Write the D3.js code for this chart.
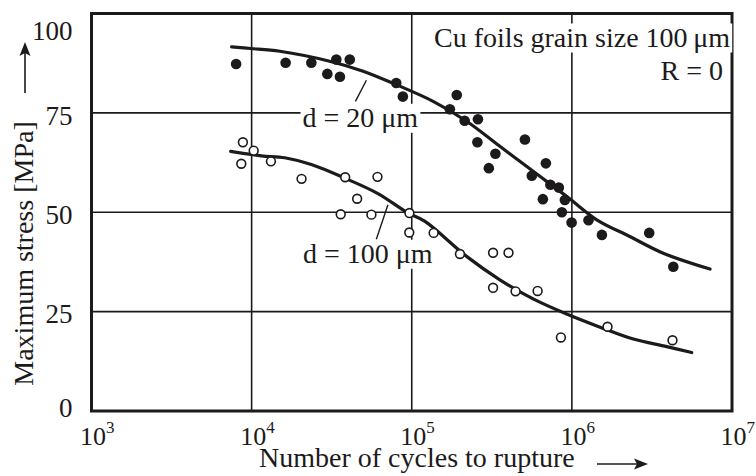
<!DOCTYPE html>
<html>
<head>
<meta charset="utf-8">
<script src="https://cdn.jsdelivr.net/npm/d3@7"></script>
<style>
  html, body { margin: 0; padding: 0; background: #fff; }
  svg { display: block; }
  text { font-family: "Liberation Serif", "Times New Roman", serif; fill: #1c1a1a; }
</style>
</head>
<body>
<svg id="chart" width="756" height="476"></svg>
<script>
// Fatigue data for Cu foils (grain size 100 µm, R = 0)
// d = 20 µm foils (filled markers)
const fineCycles = [8.0e3, 1.63e4, 2.36e4, 2.97e4, 3.38e4, 3.56e4, 4.10e4, 8.0e4, 8.8e4,
  1.91e5, 1.73e5, 2.14e5, 2.59e5, 2.57e5, 3.33e5, 3.03e5, 5.09e5, 6.88e5, 5.62e5,
  7.34e5, 8.29e5, 6.59e5, 9.04e5, 8.66e5, 9.96e5, 1.27e6, 1.54e6, 3.04e6, 4.30e6];
const fineStress = [87.3, 87.6, 87.6, 84.8, 88.4, 84.1, 88.4, 82.5, 79.1,
  79.5, 75.9, 73.0, 73.4, 67.6, 64.7, 61.1, 68.3, 62.3, 59.2,
  56.9, 56.2, 53.3, 53.1, 50.0, 47.4, 48.0, 44.3, 44.8, 36.3];

// d = 100 µm foils (open markers)
const coarseCycles = [8.82e3, 1.03e4, 8.62e3, 1.32e4, 2.05e4, 3.84e4, 6.11e4, 4.56e4, 3.60e4,
  5.60e4, 9.67e4, 9.65e4, 1.37e5, 2.0e5, 3.22e5, 4.02e5, 3.22e5, 4.45e5, 6.11e5,
  8.54e5, 1.67e6, 4.25e6];
const coarseStress = [67.6, 65.5, 62.2, 62.8, 58.4, 58.8, 58.9, 53.4, 49.5,
  49.4, 49.8, 44.9, 44.8, 39.5, 39.8, 39.8, 31.0, 30.1, 30.2,
  18.5, 21.2, 17.8];

// Fitted S-N curves
const fineCurveCycles = [7.5e3, 9.9e3, 1.5e4, 3.07e4, 4.97e4, 8.0e4, 1.36e5, 2.2e5, 3.55e5,
  5.73e5, 9.27e5, 1.43e6, 2.3e6, 3.72e6, 7.29e6];
const fineCurveStress = [91.6, 91.2, 90.5, 88.0, 85.5, 82.1, 77.9, 72.9, 66.6,
  60.3, 54.0, 48.1, 43.9, 39.7, 35.7];
const coarseCurveCycles = [7.4e3, 1.15e4, 1.61e4, 2.36e4, 3.81e4, 6.15e4, 9.48e4, 1.21e5,
  2.2e5, 3.55e5, 5.73e5, 9.27e5, 1.5e6, 2.42e6, 3.91e6, 5.6e6];
const coarseCurveStress = [65.3, 64.2, 63.7, 62.0, 58.6, 54.7, 49.8, 47.7,
  38.9, 33.0, 28.2, 24.4, 21.1, 18.1, 16.2, 14.7];

// Axis ticks
const xTickValues = [1e3, 1e4, 1e5, 1e6, 1e7];
const xTickExponents = ["3", "4", "5", "6", "7"];
const yTickValues = [0, 25, 50, 75, 100];
const yTickLabels = ["0", "25", "50", "75", "100"];

const ink = "#1c1a1a";
const svg = d3.select("#chart");

const plot = { left: 91.5, right: 732, top: 13.5, bottom: 411 };
const x = d3.scaleLog().domain([1e3, 1e7]).range([plot.left, plot.right]);
const y = d3.scaleLinear().domain([0, 100]).range([plot.bottom, plot.top]);

// Grid lines
const grid = svg.append("g").attr("stroke", ink).attr("stroke-width", 1.6);
grid.selectAll("line.v").data(xTickValues.slice(1, -1)).join("line")
  .attr("x1", d => x(d)).attr("x2", d => x(d))
  .attr("y1", plot.top).attr("y2", plot.bottom);
grid.selectAll("line.h").data(yTickValues.slice(1, -1)).join("line")
  .attr("x1", plot.left).attr("x2", plot.right)
  .attr("y1", d => y(d)).attr("y2", d => y(d));

// Y axis labels
const yAxis = svg.append("g")
  .attr("transform", `translate(${plot.left},0)`)
  .call(d3.axisLeft(y).tickValues(yTickValues).tickSize(0).tickPadding(19)
    .tickFormat((d, i) => yTickLabels[i]));
yAxis.select(".domain").remove();
yAxis.selectAll("text")
  .attr("font-size", 27).attr("fill", ink)
  .attr("font-family", "Liberation Serif, serif")
  .attr("dy", d => d === 100 ? "0.95em" : (d === 0 ? "0.22em" : "0.42em"));

// X axis labels: 10 with a superscript exponent
const xAxis = svg.append("g")
  .attr("transform", `translate(0,${plot.bottom})`)
  .call(d3.axisBottom(x).tickValues(xTickValues).tickSize(0).tickFormat(""));
xAxis.select(".domain").remove();
xAxis.selectAll(".tick text").remove();
xAxis.selectAll(".tick").append("text")
  .attr("text-anchor", "start").attr("x", -12).attr("y", 34)
  .attr("font-size", 26).attr("fill", ink)
  .attr("font-family", "Liberation Serif, serif")
  .each(function(d, i) {
    const t = d3.select(this);
    t.append("tspan").text("10");
    t.append("tspan").attr("font-size", 17).attr("dy", -12).text(xTickExponents[i]);
  });

// Frame
svg.append("rect")
  .attr("x", plot.left).attr("y", plot.top)
  .attr("width", plot.right - plot.left).attr("height", plot.bottom - plot.top)
  .attr("fill", "none").attr("stroke", ink).attr("stroke-width", 3);

// Text with a white backing that interrupts the grid
function boxedText(g, tx, ty, str, anchor) {
  const t = g.append("text").attr("x", tx).attr("y", ty)
    .attr("font-size", 28).attr("text-anchor", anchor || "start").attr("fill", ink).text(str);
  const b = t.node().getBBox();
  g.insert("rect", "text").attr("x", b.x - 2).attr("y", b.y + 2)
    .attr("width", b.width + 4).attr("height", b.height - 2).attr("fill", "#fff");
  return t;
}

const notes = svg.append("g");
boxedText(notes, x(2.08e4), y(71.5), "d = 20 μm");
boxedText(notes, x(2.09e4), y(37.3), "d = 100 μm");
boxedText(notes, plot.right - 2, 46.5, "Cu foils grain size 100\u2009μm", "end");
notes.append("text").attr("x", plot.right - 9).attr("y", 80)
  .attr("font-size", 28).attr("text-anchor", "end").attr("fill", ink).text("R = 0");

// Leader lines from labels to curves
const leaders = [
  [[5.21e4, 83.2], [4.45e4, 77.9]],
  [[7.1e4, 51.9], [6.01e4, 43.2]]
];
svg.append("g").selectAll("line").data(leaders).join("line")
  .attr("x1", d => x(d[0][0])).attr("y1", d => y(d[0][1]))
  .attr("x2", d => x(d[1][0])).attr("y2", d => y(d[1][1]))
  .attr("stroke", ink).attr("stroke-width", 1.4);

// Fitted curves
const line = d3.line().curve(d3.curveCatmullRom.alpha(0.5))
  .x(d => x(d[0])).y(d => y(d[1]));
const curves = [
  d3.zip(fineCurveCycles, fineCurveStress),
  d3.zip(coarseCurveCycles, coarseCurveStress)
];
svg.append("g").selectAll("path").data(curves).join("path")
  .attr("d", line).attr("fill", "none").attr("stroke", ink)
  .attr("stroke-width", 3.2).attr("stroke-linecap", "round");

// Markers
svg.append("g").selectAll("circle").data(d3.zip(coarseCycles, coarseStress)).join("circle")
  .attr("cx", d => x(d[0])).attr("cy", d => y(d[1])).attr("r", 4.4)
  .attr("fill", "#fff").attr("stroke", ink).attr("stroke-width", 1.6);
svg.append("g").selectAll("circle").data(d3.zip(fineCycles, fineStress)).join("circle")
  .attr("cx", d => x(d[0])).attr("cy", d => y(d[1])).attr("r", 5.3)
  .attr("fill", ink);

// Axis titles with arrows
svg.append("text")
  .attr("transform", `translate(33,${(113 + 394) / 2}) rotate(-90)`)
  .attr("text-anchor", "middle").attr("font-size", 28).attr("fill", ink)
  .text("Maximum stress  [MPa]");
svg.append("line").attr("x1", 25).attr("x2", 25).attr("y1", 93).attr("y2", 52)
  .attr("stroke", ink).attr("stroke-width", 1.6);
svg.append("path").attr("d", "M25,42 L19.5,56 L25,53 L30.5,56 Z").attr("fill", ink);

svg.append("text")
  .attr("x", 259).attr("y", 467).attr("font-size", 28).attr("fill", ink)
  .text("Number of cycles to rupture");
svg.append("line").attr("x1", 597).attr("x2", 640).attr("y1", 464).attr("y2", 464)
  .attr("stroke", ink).attr("stroke-width", 1.6);
svg.append("path").attr("d", "M648,464 L634,458.5 L637,464 L634,469.5 Z").attr("fill", ink);
</script>
</body>
</html>
